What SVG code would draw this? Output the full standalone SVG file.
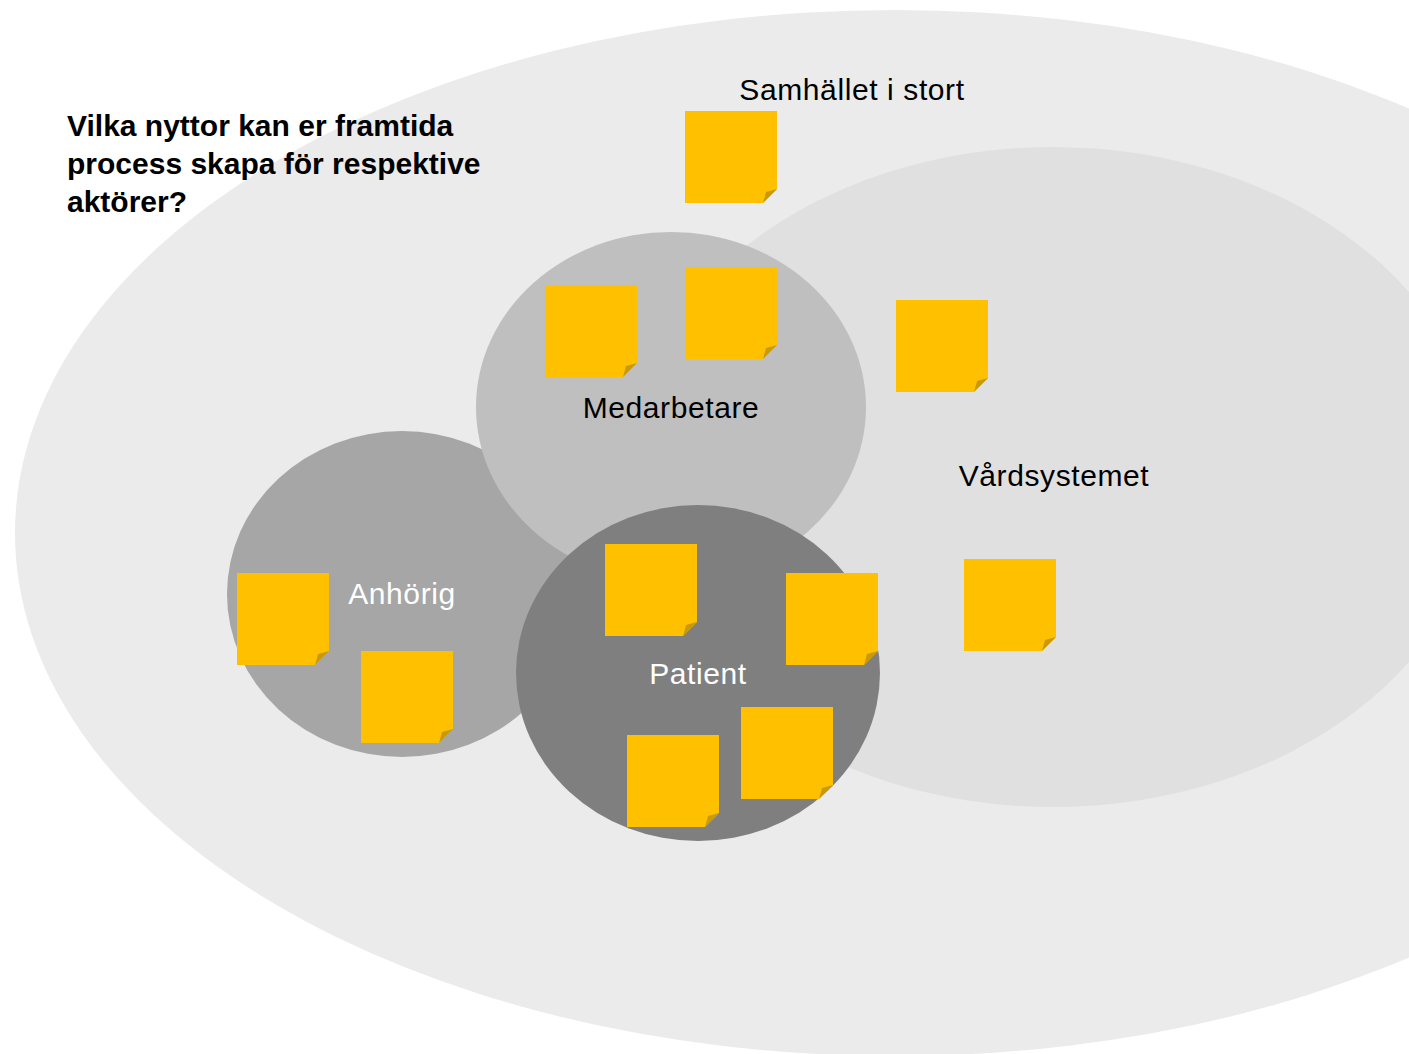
<svg xmlns="http://www.w3.org/2000/svg" width="1409" height="1054" viewBox="0 0 1409 1054">
  <defs>
    <style>
      .lbl { font-family: "Liberation Sans", Arial, sans-serif; font-size: 30px; letter-spacing: 0.6px; }
      .title { font-family: "Liberation Sans", Arial, sans-serif; font-size: 30px; font-weight: bold; fill: #000; }
      .dark { fill: #000; }
      .light { fill: #fff; }
      .note-body { fill: #ffc000; }
      .note-fold { fill: #c99a06; }
    </style>
    <!-- sticky note, 92x92 with folded bottom-right corner -->
    <g id="note">
      <polygon class="note-body" points="0,0 92,0 92,78 78,92 0,92"/>
      <polygon class="note-fold" points="78,92 92,78 81,81"/>
    </g>
  </defs>

  <rect width="1409" height="1054" fill="#ffffff"/>

  <!-- stakeholder areas -->
  <g id="samhallet">
    <ellipse cx="895" cy="533" rx="880" ry="523" fill="#ebebeb"/>
    <text class="lbl dark" x="852" y="100" text-anchor="middle">Samhället i stort</text>
  </g>
  <g id="vardsystemet">
    <ellipse cx="1053" cy="477" rx="430" ry="330" fill="#e0e0e0"/>
    <text class="lbl dark" x="1054" y="486" text-anchor="middle">Vårdsystemet</text>
  </g>
  <g id="anhorig">
    <ellipse cx="402" cy="594" rx="175" ry="163" fill="#a6a6a6"/>
    <text class="lbl light" x="402" y="604" text-anchor="middle">Anhörig</text>
  </g>
  <g id="medarbetare">
    <ellipse cx="671" cy="407" rx="195" ry="175" fill="#bfbfbf"/>
    <text class="lbl dark" x="671" y="418" text-anchor="middle">Medarbetare</text>
  </g>
  <g id="patient">
    <ellipse cx="698" cy="673" rx="182" ry="168" fill="#7f7f7f"/>
    <text class="lbl light" x="698" y="684" text-anchor="middle">Patient</text>
  </g>

  <!-- question -->
  <g id="question">
    <text class="title" x="67" y="136">Vilka nyttor kan er framtida</text>
    <text class="title" x="67" y="174">process skapa för respektive</text>
    <text class="title" x="67" y="212">aktörer?</text>
  </g>

  <!-- sticky notes -->
  <g id="notes">
    <use href="#note" x="685" y="111"/>
    <use href="#note" x="545" y="285"/>
    <use href="#note" x="685" y="267"/>
    <use href="#note" x="896" y="300"/>
    <use href="#note" x="964" y="559"/>
    <use href="#note" x="237" y="573"/>
    <use href="#note" x="361" y="651"/>
    <use href="#note" x="605" y="544"/>
    <use href="#note" x="786" y="573"/>
    <use href="#note" x="741" y="707"/>
    <use href="#note" x="627" y="735"/>
  </g>

  <!-- no connectors in this diagram -->
  <g id="connectors"/>
</svg>
